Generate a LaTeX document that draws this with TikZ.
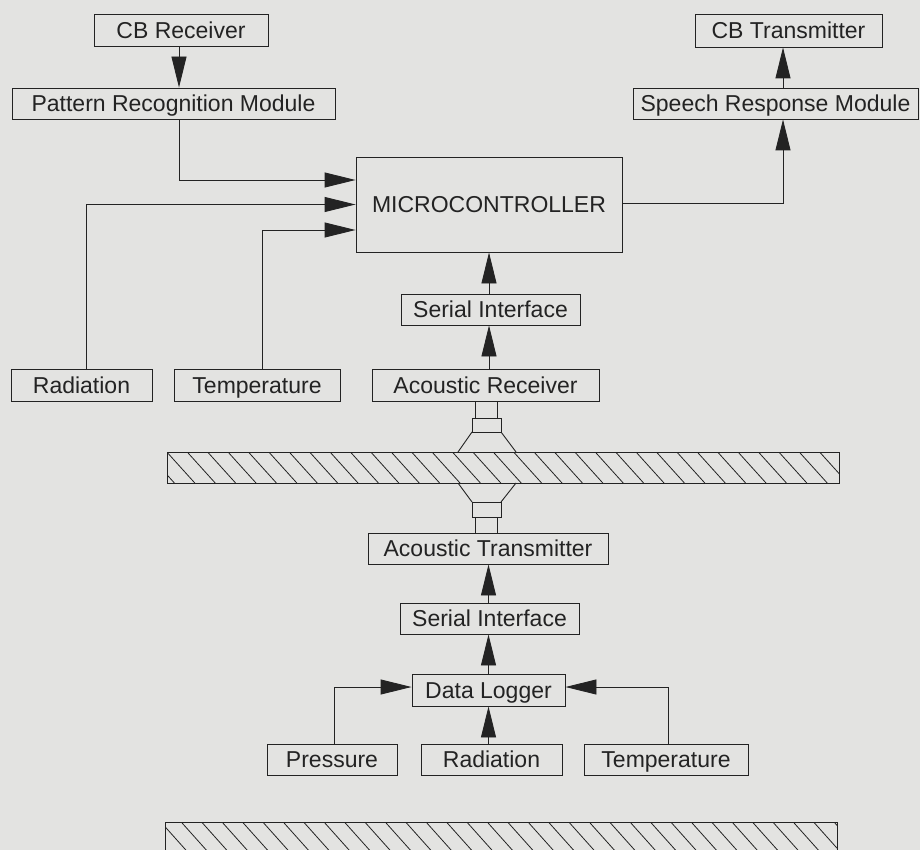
\documentclass[tikz,border=0pt]{standalone}
\usepackage{fontspec}
\setmainfont{Liberation Sans}
\usetikzlibrary{arrows.meta}
\definecolor{paper}{RGB}{227,227,225}
\definecolor{ink}{RGB}{35,35,35}
\tikzset{
  box/.style={draw=ink, line width=0.9pt, inner sep=0pt, text=ink,
    text height=16.5pt, text depth=0pt,
    font=\fontsize{23}{27}\selectfont},
  arr/.style={draw=ink, line width=0.9pt, -{Triangle[length=31pt,width=15pt]}},
  wire/.style={draw=ink, line width=0.9pt},
  hatchline/.style={draw=ink, line width=0.8pt}
}
\begin{document}
\begin{tikzpicture}[x=1pt,y=-1pt]
\fill[paper] (0,0) rectangle (920,850);
\useasboundingbox (0,0) rectangle (920,850);

% nodes
\node[box, minimum width=174, minimum height=32] (cbr) at (181,30) {CB Receiver};
\node[box, minimum width=323, minimum height=31] (prm) at (173.5,103.5) {Pattern Recognition Module};
\node[box, minimum width=187, minimum height=33] (cbt) at (788.5,30.5) {CB Transmitter};
\node[box, minimum width=285, minimum height=31] (srm) at (775.5,103.5) {Speech Response Module};
\node[box, minimum width=266, minimum height=95] (mc) at (489,204.5) {MICROCONTROLLER};
\node[box, minimum width=179, minimum height=31] (si1) at (490.5,309.5) {Serial Interface};
\node[box, minimum width=141, minimum height=32] (rad1) at (81.5,385) {Radiation};
\node[box, minimum width=166, minimum height=32] (tmp1) at (257,385) {Temperature};
\node[box, minimum width=227, minimum height=32] (ar) at (485.5,385) {Acoustic Receiver};
\node[box, minimum width=240, minimum height=31] (at) at (488,548.5) {Acoustic Transmitter};
\node[box, minimum width=179, minimum height=31] (si2) at (489.5,618.5) {Serial Interface};
\node[box, minimum width=153, minimum height=32] (dl) at (488.5,690) {Data Logger};
\node[box, minimum width=130, minimum height=31] (pr) at (332,759.5) {Pressure};
\node[box, minimum width=141, minimum height=31] (rad2) at (491.5,759.5) {Radiation};
\node[box, minimum width=164, minimum height=31] (tmp2) at (666,759.5) {Temperature};

% connectors
\draw[arr] ([xshift=-2pt]cbr.south) -- ([xshift=-2pt]cbr.south |- prm.north);
\draw[arr] ([xshift=5.5pt]prm.south) |- ([yshift=24.5pt]mc.west);
\draw[arr] ([xshift=4.5pt]rad1.north) |- (mc.west);
\draw[arr] ([xshift=5pt]tmp1.north) |- ([yshift=-25.5pt]mc.west);
\draw[arr] ([yshift=1.5pt]mc.east) -| ([xshift=7.5pt]srm.south);
\draw[arr] ([xshift=7.5pt]srm.north) -- ([xshift=7.5pt]srm.north |- cbt.south);
\draw[arr] (si1.north -| mc.south) -- (mc.south);
\draw[arr] (ar.north -| mc.south) -- (si1.south -| mc.south);
\draw[arr] (si2.north -| dl.north) -- (at.south -| dl.north);
\draw[arr] (dl.north) -- (si2.south -| dl.north);
\draw[arr] (rad2.north -| dl.south) -- (dl.south);
\draw[arr] ([xshift=2pt]pr.north) |- ([yshift=3pt]dl.west);
\draw[arr] ([xshift=2pt]tmp2.north) |- ([yshift=3pt]dl.east);

% upper transducer (receiver side)
\draw[wire] (475,401) -- (475,418) (497,401) -- (497,418);
\draw[wire] (472,418) rectangle (501,432);
\draw[wire] (472,432) -- (458,452) (501,432) -- (516,452);
% lower transducer (transmitter side)
\draw[wire] (458,483) -- (472,502) (516,483) -- (501,502);
\draw[wire] (472,502) rectangle (501,517);
\draw[wire] (475,517) -- (475,533) (497,517) -- (497,533);

% upper hatched wall
\begin{scope}
\clip (167,452) rectangle (839,483);
\foreach \x in {126,146.4,...,860} \draw[hatchline] (\x,452) -- ++(28,31);
\end{scope}
\draw[wire] (167,452) rectangle (839,483);

% lower hatched wall
\begin{scope}
\clip (165,822) rectangle (837,860);
\foreach \x in {120,140.4,...,860} \draw[hatchline] (\x,822) -- ++(34,38);
\end{scope}
\draw[wire] (165,860) -- (165,822) -- (837,822) -- (837,860);
\end{tikzpicture}
\end{document}
